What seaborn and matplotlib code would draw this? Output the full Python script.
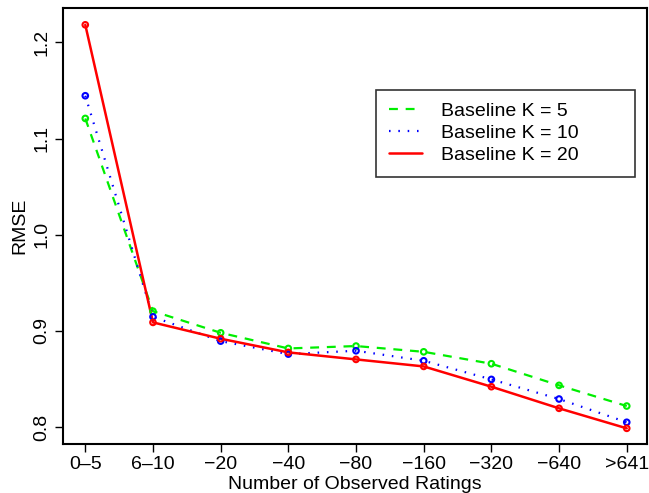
import matplotlib
matplotlib.use("Agg")
import matplotlib.pyplot as plt
import seaborn as sns
import pandas as pd
from matplotlib.lines import Line2D

categories = ["0\u20135", "6\u201310", "\u221220", "\u221240", "\u221280", "\u2212160", "\u2212320", "\u2212640", ">641"]
k5 = [1.121, 0.9205, 0.898, 0.8817, 0.8842, 0.8782, 0.8658, 0.8433, 0.8218]
k10 = [1.1446, 0.9146, 0.8893, 0.8758, 0.8793, 0.8689, 0.8495, 0.8291, 0.8049]
k20 = [1.2184, 0.9088, 0.8918, 0.8776, 0.8703, 0.863, 0.8419, 0.8194, 0.7986]
series_names = ["Baseline K = 5", "Baseline K = 10", "Baseline K = 20"]
yticks = [0.8, 0.9, 1.0, 1.1, 1.2]

sns.set_style("ticks")
plt.rcParams['font.family'] = ['Liberation Sans', 'DejaVu Sans']
for k in ["text.color", "axes.labelcolor", "xtick.color", "ytick.color", "axes.edgecolor"]:
    plt.rcParams[k] = "black"

FS = 14

fig = plt.figure(figsize=(6.49, 4.93), dpi=100)
ax = fig.add_axes([0.097, 0.0994, 0.9, 0.8846])

styles = [
    dict(color="#00EE00", dashes=(4, 3.5), lw=1.6),
    dict(color="#0000FF", dashes=(0.7, 3.5), lw=1.6),
    dict(color="#FF0000", dashes=None, lw=1.8),
]
rows = []
for name, vals in zip(series_names, [k5, k10, k20]):
    for c, v in zip(categories, vals):
        rows.append(dict(cat=c, rmse=v, series=name))
df = pd.DataFrame(rows)

handles = []
for name, st in zip(series_names, styles):
    sub = df[df.series == name]
    sns.lineplot(data=sub, x="cat", y="rmse", ax=ax, color=st["color"], lw=st["lw"],
                 sort=False, legend=False)
    line = ax.lines[-1]
    if st["dashes"] is not None:
        line.set_dashes(st["dashes"])
    sns.scatterplot(data=sub, x="cat", y="rmse", ax=ax, marker="o", s=16,
                    facecolor="none", edgecolor=st["color"], linewidth=1.5,
                    legend=False, zorder=5)
    h = Line2D([], [], color=st["color"], lw=st["lw"])
    if st["dashes"] is not None:
        h.set_dashes(st["dashes"])
    handles.append(h)

ax.set_xlim(-0.33, 8.3)
ax.set_ylim(0.7823, 1.236)
ax.set_yticks(yticks)
ax.set_yticklabels([f"{t:.1f}" for t in yticks], rotation=90, va="center", fontsize=FS)
ax.set_xticks(range(len(categories)))
ax.set_xticklabels(categories, fontsize=FS)
ax.tick_params(axis="both", direction="out", length=6, width=1, color="black")
ax.tick_params(axis="y", pad=3)
ax.tick_params(axis="x", pad=3)
ax.set_xlabel("Number of Observed Ratings", fontsize=FS, labelpad=2)
ax.set_ylabel("RMSE", fontsize=FS, labelpad=4)
for sp in ax.spines.values():
    sp.set_visible(True)
    sp.set_linewidth(1.5)
    sp.set_color("black")

leg = ax.legend(handles, series_names, loc="upper left",
                bbox_to_anchor=(0.536, 0.812, 0.4435, 0.0), mode="expand",
                fontsize=FS, frameon=True, fancybox=False, edgecolor="black",
                handlelength=1.7, labelspacing=0.22, borderpad=0.65, handletextpad=1.0,
                borderaxespad=0)
leg.get_frame().set_linewidth(1.2)
leg.get_frame().set_edgecolor("black")

fig.savefig("out.png", dpi=100)
